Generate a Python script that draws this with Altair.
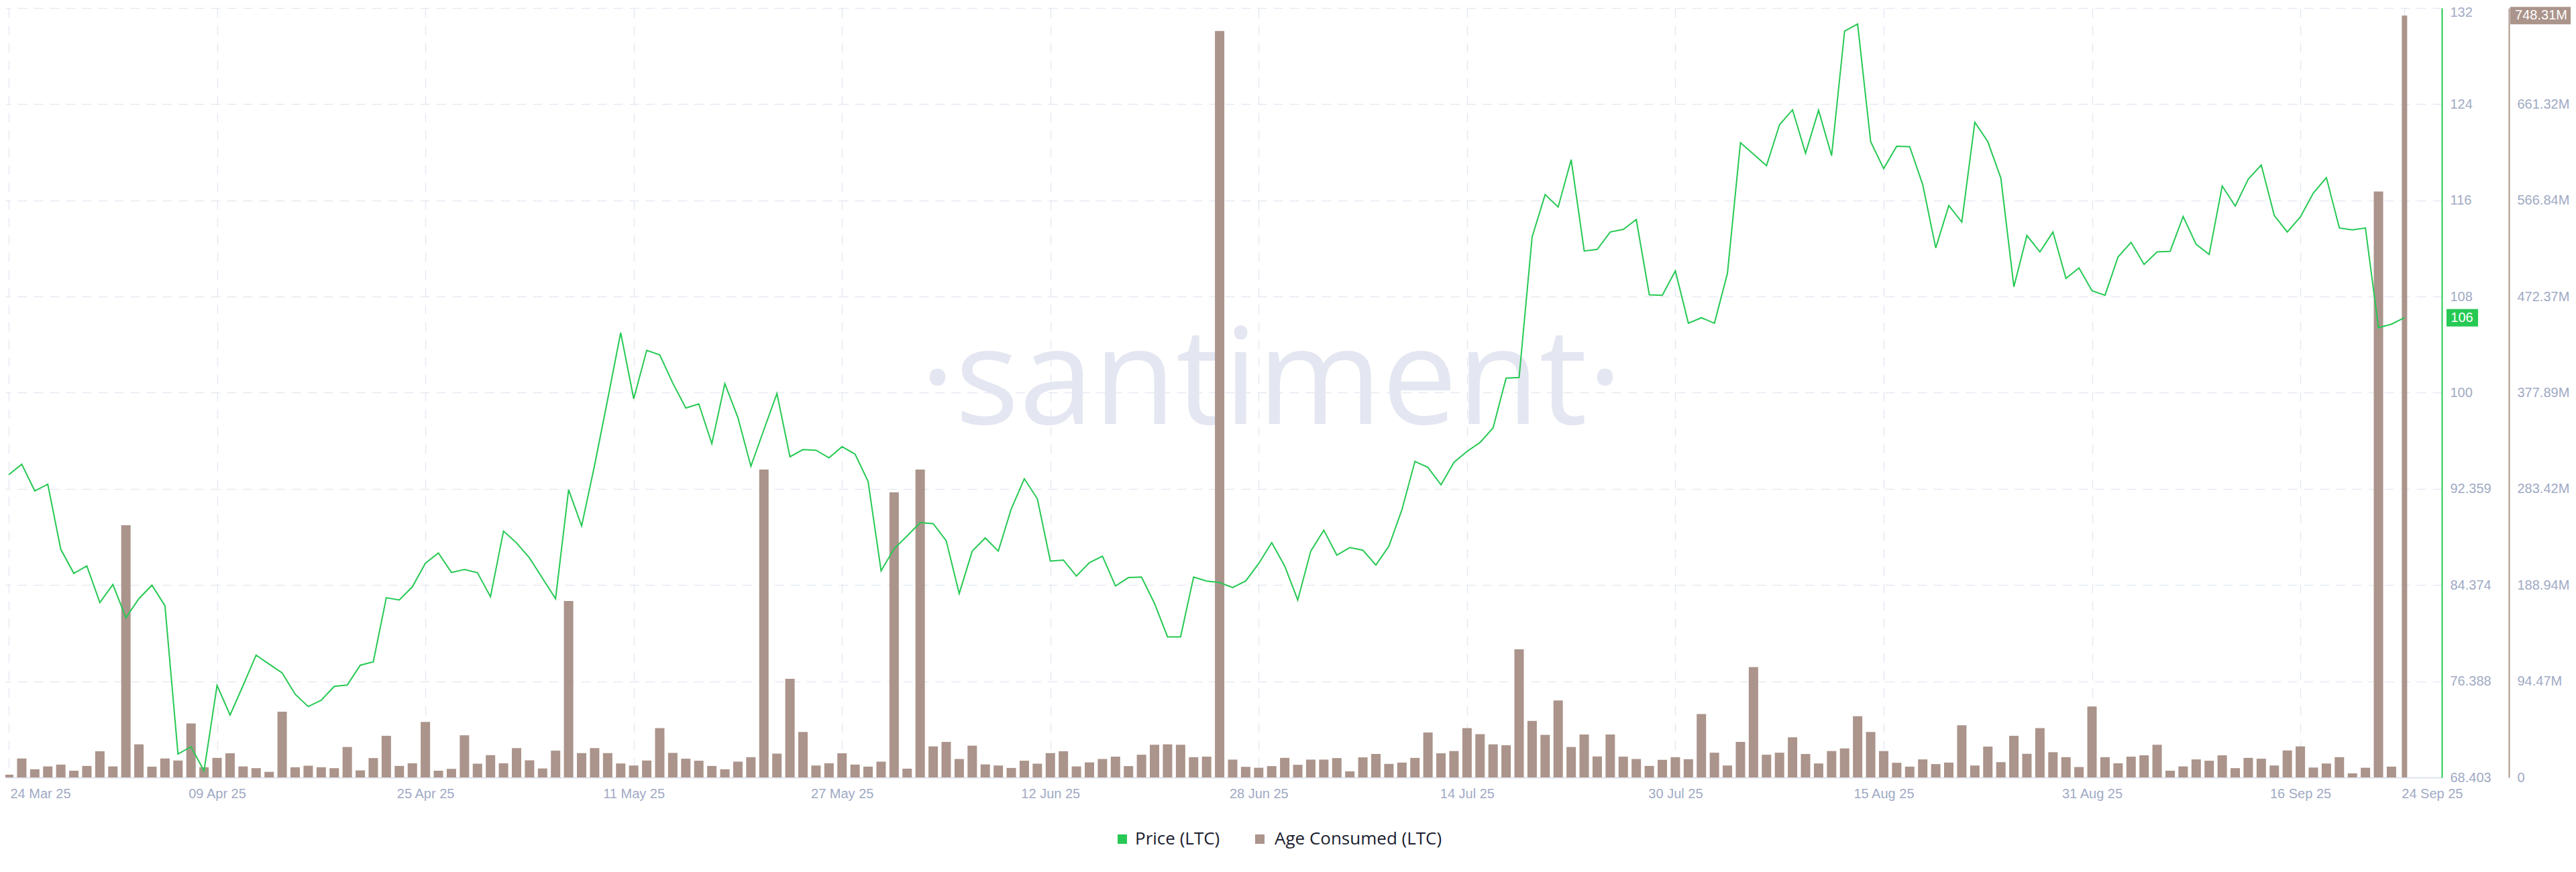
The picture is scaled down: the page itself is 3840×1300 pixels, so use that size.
import altair as alt
import pandas as pd

# ---------------- data ----------------
start_date = "2025-03-24"

price_ltc = [
    93.42, 94.29, 92.09, 92.64, 87.25, 85.27, 85.89, 82.86, 84.35, 81.61,
    83.18, 84.29, 82.59, 70.34, 70.94, 68.94, 76.01, 73.56, 76.00, 78.51,
    77.77, 77.04, 75.28, 74.26, 74.78, 75.93, 76.04, 77.68, 77.96, 83.26,
    83.07, 84.16, 86.11, 86.95, 85.35, 85.59, 85.32, 83.34, 88.76, 87.79,
    86.54, 84.86, 83.18, 92.18, 89.19, 94.23, 99.65, 105.17, 99.70, 103.71,
    103.33, 101.00, 98.94, 99.27, 95.99, 100.95, 98.16, 94.12, 97.15, 100.14,
    94.91, 95.50, 95.45, 94.82, 95.74, 95.13, 92.88, 85.48, 87.31, 88.36,
    89.47, 89.38, 87.97, 83.60, 87.11, 88.20, 87.11, 90.61, 93.09, 91.44,
    86.29, 86.37, 85.05, 86.16, 86.70, 84.23, 84.92, 84.97, 82.78, 80.02,
    80.02, 84.97, 84.64, 84.51, 84.10, 84.64, 86.08, 87.81, 85.87, 83.07,
    87.11, 88.84, 86.78, 87.40, 87.19, 85.96, 87.52, 90.53, 94.53, 94.03,
    92.59, 94.45, 95.35, 96.09, 97.29, 101.41, 101.46, 113.08, 116.58, 115.55,
    119.47, 111.92, 112.05, 113.49, 113.70, 114.52, 108.30, 108.26, 110.28, 105.95,
    106.40, 105.95, 110.07, 120.87, 119.92, 118.97, 122.35, 123.59, 120.00, 123.55,
    119.80, 130.10, 130.68, 120.95, 118.73, 120.58, 120.54, 117.40, 112.17, 115.68,
    114.31, 122.56, 120.95, 117.94, 108.96, 113.20, 111.84, 113.49, 109.66, 110.52,
    108.63, 108.26, 111.43, 112.63, 110.81, 111.84, 111.89, 114.77, 112.46, 111.64,
    117.29, 115.63, 117.86, 119.02, 114.85, 113.49, 114.73, 116.71, 117.98, 113.82,
    113.66, 113.82, 105.58, 105.87, 106.40,
]

age_consumed_m = [
    2.7, 18.6, 8.0, 10.8, 12.6, 6.6, 11.3, 25.7, 10.8, 247.7,
    32.5, 10.6, 18.6, 16.6, 53.1, 10.0, 19.2, 23.7, 10.8, 9.1,
    5.5, 64.6, 10.0, 11.5, 10.0, 9.1, 29.9, 6.9, 19.0, 40.9,
    11.3, 13.9, 54.6, 6.6, 8.4, 41.4, 13.5, 21.9, 13.9, 28.8,
    16.8, 8.8, 26.3, 173.3, 23.9, 28.8, 23.9, 13.7, 11.7, 16.6,
    48.4, 24.1, 18.4, 16.4, 11.3, 8.0, 15.5, 19.9, 302.4, 23.4,
    96.9, 44.7, 11.7, 13.9, 23.7, 12.6, 10.6, 15.5, 280.0, 8.6,
    302.4, 30.5, 34.9, 18.1, 31.2, 12.8, 11.7, 9.3, 16.4, 13.5,
    23.9, 25.7, 10.8, 14.8, 18.1, 20.4, 11.1, 22.3, 32.1, 32.5,
    32.1, 19.9, 20.4, 733.2, 17.5, 10.4, 9.5, 11.1, 19.2, 12.4,
    17.5, 17.5, 19.0, 6.0, 19.7, 23.0, 13.3, 14.6, 19.2, 44.2,
    23.7, 25.9, 48.4, 42.5, 32.5, 31.6, 125.9, 55.5, 41.8, 75.6,
    29.9, 42.2, 20.6, 42.2, 20.4, 18.1, 11.3, 17.3, 19.9, 17.9,
    62.2, 24.3, 11.7, 34.9, 108.4, 22.3, 24.3, 39.4, 23.0, 13.7,
    25.9, 28.5, 60.2, 44.7, 25.9, 14.4, 10.6, 17.7, 13.1, 14.6,
    51.3, 11.7, 30.3, 15.0, 40.9, 23.2, 48.4, 24.8, 19.9, 10.2,
    69.7, 19.9, 13.9, 20.4, 21.7, 32.1, 6.6, 10.8, 17.7, 16.4,
    21.7, 9.1, 19.2, 18.4, 11.7, 26.5, 30.5, 9.7, 13.7, 19.9,
    4.0, 9.5, 575.5, 10.6, 748.31,
]

price_tick_labels = ["68.403", "76.388", "84.374", "92.359", "100", "108", "116", "124", "132"]
age_tick_labels = ["0", "94.47M", "188.94M", "283.42M", "377.89M", "472.37M",
                   "566.84M", "661.32M", "755.79M"]
x_tick_dates = ["2025-03-24", "2025-04-09", "2025-04-25", "2025-05-11", "2025-05-27",
                "2025-06-12", "2025-06-28", "2025-07-14", "2025-07-30", "2025-08-15",
                "2025-08-31", "2025-09-16", "2025-09-24"]
series_names = ["Price (LTC)", "Age Consumed (LTC)"]

# ---------------- styling ----------------
GREEN = "#26c953"
BROWN = "#ab948b"
LABEL = "#a0aac4"
GRID = "#e6e9f2"
FONT = "Liberation Sans"

PRICE_MIN, PRICE_MAX = 68.403, 132.0
AGE_MAX = 755.79

W, H = 3632, 1147

dates = pd.date_range(start_date, periods=len(price_ltc), freq="D")
df = pd.DataFrame({
    "date": [d.strftime("%Y-%m-%dT00:00:00Z") for d in dates],
    "price": price_ltc,
    "age": age_consumed_m,
})
df["age_label"] = [f"{v:.2f}M" for v in df["age"]]
df["is_last"] = [False] * (len(df) - 1) + [True]
last = df.iloc[[-1]].copy()


def dt(s, h=0, m=0):
    t = pd.Timestamp(s)
    return alt.DateTime(year=t.year, month=t.month, date=t.day, hours=h, minutes=m, utc=True)


def ms(s):
    return int(pd.Timestamp(s, tz="UTC").value // 10**6)


def label_expr(values, labels):
    expr = f"'{labels[-1]}'"
    for i in range(len(values) - 2, -1, -1):
        mid = (values[i] + values[i + 1]) / 2
        expr = f"datum.value < {mid} ? '{labels[i]}' : ({expr})"
    return expr


price_ticks = [PRICE_MIN + k * (PRICE_MAX - PRICE_MIN) / 8 for k in range(9)]
age_ticks = [k * AGE_MAX / 8 for k in range(9)]

x_scale = alt.Scale(type="utc", domain=[dt("2025-03-24"), dt("2025-09-26", 14, 38)])
price_scale = alt.Scale(domain=[PRICE_MIN, PRICE_MAX], nice=False, zero=False)
age_scale = alt.Scale(domain=[0, AGE_MAX], nice=False, zero=False)

x_axis = alt.Axis(
    values=[dt(s) for s in x_tick_dates],
    format="%d %b %y",
    title=None,
    labelFont=FONT, labelFontSize=20, labelColor=LABEL,
    labelPadding=14, ticks=False, labelFlush=False, labelOverlap=False,
    domain=True, domainColor="#dfe3ee", domainWidth=2,
    grid=True, gridColor=GRID, gridDash=[14, 12], gridWidth=1.5,
    labelOffset={"condition": [
        {"test": f"datum.value <= {ms(x_tick_dates[0])}", "value": 47},
        {"test": f"datum.value >= {ms(x_tick_dates[-1])}", "value": 41},
    ], "value": 0},
)

price_axis = alt.Axis(
    orient="right", title=None, values=price_ticks,
    labelExpr=label_expr(price_ticks, price_tick_labels),
    labelFont=FONT, labelFontSize=20, labelColor=LABEL, labelPadding=12,
    ticks=False, domain=True, domainColor=GREEN, domainWidth=2,
    grid=True, gridColor=GRID, gridDash=[14, 10], gridWidth=1.5,
    labelOverlap=False, labelFlush=False, labelBound=False,
    labelOffset={"condition": {"test": f"datum.value > {PRICE_MAX - 1}", "value": 6}, "value": 0},
)

age_axis = alt.Axis(
    orient="right", offset=100, title=None, values=age_ticks,
    labelExpr=label_expr(age_ticks, age_tick_labels),
    labelFont=FONT, labelFontSize=20, labelColor=LABEL, labelPadding=12,
    ticks=False, domain=True, domainColor=BROWN, domainWidth=2,
    grid=False, labelOverlap=False, labelFlush=False, labelBound=False,
    labelOffset={"condition": {"test": f"datum.value > {AGE_MAX - 1}", "value": 6}, "value": 0},
)

base = alt.Chart(df)

# watermark
watermark = alt.Chart(pd.DataFrame({"t": ["·santiment·"]})).mark_text(
    font="Open Sans", fontSize=200, color="#e4e7f1", align="center", baseline="alphabetic"
).encode(x=alt.value(1887), y=alt.value(620), text="t:N")

# age consumed bars (latest day drawn narrower, as in the reference) + tag
bars = base.transform_filter("!datum.is_last").mark_bar(size=14, color=BROWN, clip=True).encode(
    x=alt.X("date:T", scale=x_scale, axis=x_axis),
    y=alt.Y("age:Q", scale=age_scale, axis=age_axis),
)
last_bar = alt.Chart(last).mark_bar(size=8, color=BROWN, clip=True).encode(
    x=alt.X("date:T", scale=x_scale),
    y=alt.Y("age:Q", scale=age_scale),
)
age_tag_rect = alt.Chart(last).mark_rect(color=BROWN, yOffset=-13, y2Offset=13).encode(
    x=alt.value(3734), x2=alt.value(3826),
    y=alt.Y("age:Q", scale=age_scale), y2="age:Q",
)
age_tag_text = alt.Chart(last).mark_text(
    font=FONT, fontSize=20, color="white", align="center", baseline="middle"
).encode(x=alt.value(3780), y=alt.Y("age:Q", scale=age_scale), text="age_label:N")
age_layer = alt.layer(bars, last_bar, age_tag_rect, age_tag_text)

# price line + tag
line = base.mark_line(color=GREEN, strokeWidth=2, clip=True).encode(
    x=alt.X("date:T", scale=x_scale, axis=x_axis),
    y=alt.Y("price:Q", scale=price_scale, axis=price_axis),
)
price_tag_rect = alt.Chart(last).mark_rect(color=GREEN, yOffset=-13, y2Offset=13).encode(
    x=alt.value(3639), x2=alt.value(3686),
    y=alt.Y("price:Q", scale=price_scale), y2="price:Q",
)
price_tag_text = alt.Chart(last).mark_text(
    font=FONT, fontSize=20, color="white", align="center", baseline="middle"
).encode(x=alt.value(3662), y=alt.Y("price:Q", scale=price_scale),
         text=alt.Text("price:Q", format=".0f"))
price_layer = alt.layer(line, price_tag_rect, price_tag_text)

# legend
leg_y = 1239
LEG_FONT = "Open Sans"
leg_g_sq = alt.Chart(pd.DataFrame({"n": [series_names[0]]})).mark_square(
    size=196, color=GREEN, opacity=1).encode(x=alt.value(1665), y=alt.value(leg_y))
leg_g_tx = alt.Chart(pd.DataFrame({"n": [series_names[0]]})).mark_text(
    font=LEG_FONT, fontSize=26, color="#1b1e2f", align="left", baseline="middle"
).encode(x=alt.value(1684), y=alt.value(leg_y), text="n:N")
leg_b_sq = alt.Chart(pd.DataFrame({"n": [series_names[1]]})).mark_square(
    size=196, color=BROWN, opacity=1).encode(x=alt.value(1870), y=alt.value(leg_y))
leg_b_tx = alt.Chart(pd.DataFrame({"n": [series_names[1]]})).mark_text(
    font=LEG_FONT, fontSize=26, color="#1b1e2f", align="left", baseline="middle"
).encode(x=alt.value(1892), y=alt.value(leg_y), text="n:N")

chart = alt.layer(
    watermark, age_layer, price_layer, leg_g_sq, leg_g_tx, leg_b_sq, leg_b_tx
).resolve_scale(y="independent").properties(
    width=W, height=H,
    autosize=alt.AutoSizeParams(type="none"),
    padding={"left": 0, "top": 4, "right": 192, "bottom": 120},
    background="white",
).configure_view(stroke=None)

chart.save("out.html", embed_options={"renderer": "svg", "actions": False})
